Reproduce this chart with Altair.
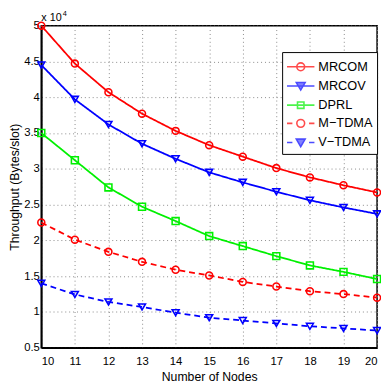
import altair as alt
import pandas as pd

nodes = [10, 11, 12, 13, 14, 15, 16, 17, 18, 19, 20]
series_names = ["MRCOM", "MRCOV", "DPRL", "M\u2212TDMA", "V\u2212TDMA"]
mrcom = [5.00, 4.47, 4.07, 3.77, 3.53, 3.33, 3.17, 3.01, 2.88, 2.77, 2.67]
mrcov = [4.45, 3.97, 3.62, 3.35, 3.14, 2.95, 2.81, 2.68, 2.56, 2.46, 2.37]
dprl = [3.50, 3.12, 2.74, 2.47, 2.27, 2.06, 1.92, 1.78, 1.65, 1.56, 1.46]
m_tdma = [2.25, 2.01, 1.84, 1.70, 1.59, 1.51, 1.42, 1.355, 1.29, 1.25, 1.20]
v_tdma = [1.40, 1.245, 1.14, 1.07, 0.99, 0.92, 0.88, 0.84, 0.80, 0.77, 0.74]
y_ticks = [0.5, 1, 1.5, 2, 2.5, 3, 3.5, 4, 4.5, 5]

colors = ["#ff0000", "#0000ff", "#00f000", "#ff0000", "#0000ff"]
dashes = [[1, 0], [1, 0], [1, 0], [6, 4], [6, 4]]
shapes = ["circle", "triangle-down", "square", "circle", "triangle-down"]

circ = "M-0.4,0A0.4,0.4 0 1,0 0.4,0A0.4,0.4 0 1,0 -0.4,0"
tri = "M-0.45,-0.35L0.45,-0.35L0,0.42Z"
sq = "M-0.33,-0.33H0.33V0.33H-0.33Z"
solid = "M-1.4,0H1.4"
dashed = "M-1.4,0H-0.85M0.85,0H1.4"
legend_paths = [solid + circ, solid + tri, solid + sq, dashed + circ, dashed + tri]
legend_fill = ["transparent", "#0000ff", "transparent", "transparent", "#0000ff"]

rows = []
for name, vals in zip(series_names, [mrcom, mrcov, dprl, m_tdma, v_tdma]):
    for n, v in zip(nodes, vals):
        rows.append({"Nodes": n, "Throughput": v, "Series": name})
df = pd.DataFrame(rows)

FONT = "Liberation Sans"

x_enc = alt.X("Nodes:Q", scale=alt.Scale(domain=[10, 20], nice=False),
              axis=alt.Axis(values=nodes, format="d", title="Number of Nodes"))
y_enc = alt.Y("Throughput:Q", scale=alt.Scale(domain=[0.5, 5], nice=False, zero=False),
              axis=alt.Axis(values=y_ticks, format="~g", title="Throughput (Bytes/slot)"))

color_nl = alt.Color("Series:N", scale=alt.Scale(domain=series_names, range=colors), legend=None)

lines = alt.Chart(df).mark_line(strokeWidth=1.8, clip=False).encode(
    x=x_enc, y=y_enc, color=color_nl,
    strokeDash=alt.StrokeDash("Series:N", scale=alt.Scale(domain=series_names, range=dashes), legend=None),
)

points = alt.Chart(df).mark_point(filled=False, size=50, strokeWidth=1.6, clip=False, opacity=1).encode(
    x=x_enc, y=y_enc, color=color_nl,
    shape=alt.Shape("Series:N", scale=alt.Scale(domain=series_names, range=shapes), legend=None),
)

leg = alt.Legend(orient="none", legendX=246, legendY=27, title=None, symbolSize=400,
                 symbolStrokeWidth=1.6, symbolOffset=4, labelOffset=7, padding=4,
                 rowPadding=0.6, strokeColor="black", fillColor="white",
                 labelFont=FONT, labelFontSize=13, labelColor="black")

legend_layer = alt.Chart(df).transform_filter("false").mark_point(filled=False).encode(
    x=x_enc, y=y_enc,
    color=alt.Color("Series:N", scale=alt.Scale(domain=series_names, range=colors), legend=leg, title=None),
    shape=alt.Shape("Series:N", scale=alt.Scale(domain=series_names, range=legend_paths), legend=leg, title=None),
    fill=alt.Fill("Series:N", scale=alt.Scale(domain=series_names, range=legend_fill), legend=leg, title=None),
)

exp_data = alt.Data(values=[{"t": "x 10", "s": "4"}])
exp1 = alt.Chart(exp_data).mark_text(align="left", baseline="alphabetic", fontSize=11, font=FONT, color="black").encode(
    x=alt.value(0), y=alt.value(-5), text="t:N")
exp2 = alt.Chart(exp_data).mark_text(align="left", baseline="alphabetic", fontSize=7.5, font=FONT, color="black").encode(
    x=alt.value(22), y=alt.value(-10), text="s:N")

chart = alt.layer(lines, points, legend_layer, exp1, exp2).resolve_scale(
    color="independent", shape="independent", fill="independent"
).properties(
    width=343, height=329,
    autosize=alt.AutoSizeParams(type="none"),
    padding={"left": 34, "top": 14, "right": 4, "bottom": 33},
).configure_view(
    stroke="black", strokeWidth=1.5
).configure_axis(
    domainColor="black", domainWidth=1.8, ticks=False,
    gridColor="#888888", gridDash=[1, 3], gridWidth=1,
    labelFont=FONT, labelFontSize=11.5, labelColor="black",
    titleFont=FONT, titleFontSize=12.5, titleColor="black", titleFontWeight="normal",
).configure_axisX(labelPadding=8, titlePadding=4).configure_axisY(
    labelPadding=2, titleX=-27, titleBaseline="middle"
)

chart.save("out.html", embed_options={"renderer": "svg", "actions": False})
